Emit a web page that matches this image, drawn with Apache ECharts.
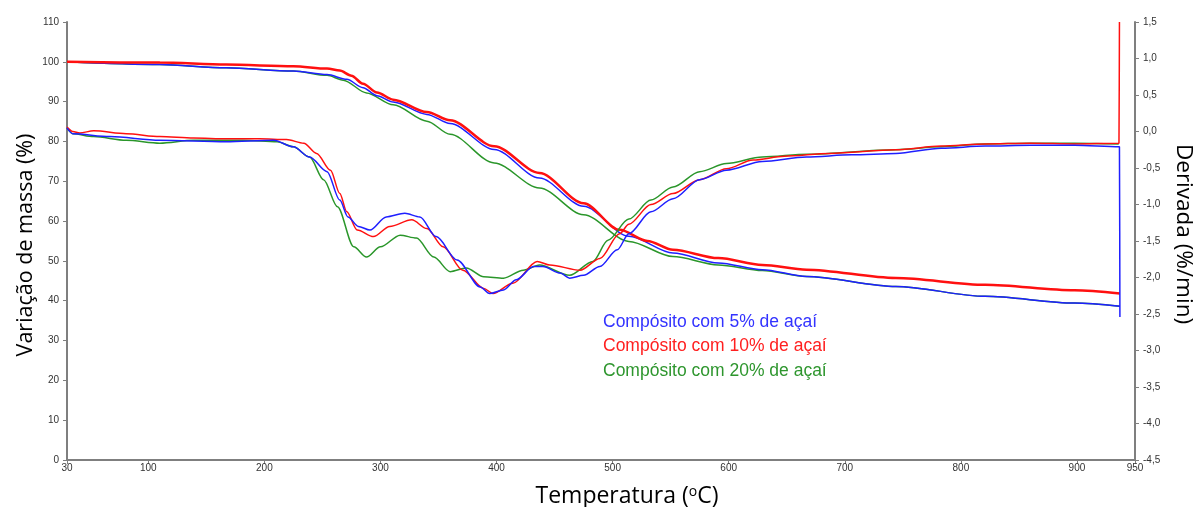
<!DOCTYPE html>
<html>
<head>
<meta charset="utf-8">
<script src="https://cdn.jsdelivr.net/npm/echarts@6/dist/echarts.min.js"></script>
<style>
html,body{margin:0;padding:0;background:#fff;}
#chart{width:1194px;height:507px;}
</style>
</head>
<body>
<div id="chart"></div>
<script>
// ---------- data (temperature °C, value) ----------
var seriesNames = ['Compósito com 5% de açaí', 'Compósito com 10% de açaí', 'Compósito com 20% de açaí'];
var xTickValues = [30, 100, 200, 300, 400, 500, 600, 700, 800, 900, 950];

// mass variation (%) - left axis
var tg5 = [[30,100],[110,99.3],[167,98.5],[225,97.7],[254,96.8],[271,95.6],[285,93.5],[297,91.5],[311,89.9],[340,86.8],[360,84.5],[398,78.0],[437,70.8],[475,63.7],[514,56.2],[552,52.0],[591,49.5],[629,47.8],[667,46.1],[744,43.6],[821,41.1],[898,39.4],[937,38.6]];
var tg10 = [[30,100],[110,99.8],[167,99.3],[225,98.9],[254,98.3],[265,97.8],[275,96.5],[285,94.5],[297,92.3],[311,90.5],[340,87.4],[360,85.3],[398,78.8],[437,72.1],[475,64.5],[506,57.8],[530,55.0],[552,52.8],[591,50.7],[629,49.0],[667,47.8],[744,45.7],[821,44.0],[898,42.6],[937,41.8]];
var tg20 = [[30,100],[110,99.3],[167,98.5],[225,97.7],[254,96.6],[268,95.4],[288,92.2],[311,89.2],[340,85.1],[360,81.8],[398,74.6],[437,68.3],[475,61.6],[514,54.9],[552,51.1],[591,49.0],[629,47.6],[667,46.1],[744,43.6],[821,41.1],[898,39.4],[937,38.6]];

// derivative (%/min) - right axis
var dtg5 = [[30,0.05],[35,-0.03],[67,-0.07],[110,-0.12],[167,-0.14],[208,-0.12],[225,-0.21],[239,-0.35],[254,-0.55],[265,-0.94],[272,-1.17],[281,-1.30],[291,-1.35],[305,-1.17],[321,-1.12],[334,-1.17],[348,-1.44],[366,-1.76],[386,-2.13],[394,-2.22],[406,-2.17],[417,-2.03],[432,-1.85],[440,-1.85],[455,-1.94],[463,-2.01],[475,-1.97],[489,-1.85],[504,-1.62],[514,-1.40],[533,-1.10],[552,-0.92],[575,-0.66],[598,-0.53],[629,-0.41],[667,-0.35],[706,-0.32],[744,-0.30],[783,-0.23],[821,-0.20],[860,-0.19],[898,-0.19],[936.6,-0.21],[937,-2.54]];
var dtg10 = [[30,0.06],[35,0.0],[41,-0.02],[53,0.01],[81,-0.03],[110,-0.07],[139,-0.09],[168,-0.10],[196,-0.10],[219,-0.11],[234,-0.16],[245,-0.30],[257,-0.53],[265,-0.85],[271,-1.10],[280,-1.35],[294,-1.44],[308,-1.30],[327,-1.21],[340,-1.33],[354,-1.58],[371,-1.90],[389,-2.15],[397,-2.22],[414,-2.08],[435,-1.78],[446,-1.83],[472,-1.90],[489,-1.74],[506,-1.40],[514,-1.27],[533,-1.00],[552,-0.85],[575,-0.66],[598,-0.51],[621,-0.39],[648,-0.34],[687,-0.30],[744,-0.25],[783,-0.20],[821,-0.17],[860,-0.16],[898,-0.17],[936.2,-0.16],[936.6,1.5]];
var dtg20 = [[30,0.05],[35,-0.03],[53,-0.07],[81,-0.12],[110,-0.16],[139,-0.12],[182,-0.12],[211,-0.14],[225,-0.21],[239,-0.35],[251,-0.66],[263,-1.03],[277,-1.58],[288,-1.72],[300,-1.58],[317,-1.42],[331,-1.46],[346,-1.72],[360,-1.92],[374,-1.87],[389,-1.99],[406,-2.01],[423,-1.90],[437,-1.83],[463,-1.97],[483,-1.78],[496,-1.49],[514,-1.20],[533,-0.94],[552,-0.76],[575,-0.55],[598,-0.44],[629,-0.35],[668,-0.31],[744,-0.25],[783,-0.21],[821,-0.17],[860,-0.16],[898,-0.16],[936,-0.17]];

var colors = {blue: '#1f1fff', red: '#ff1010', green: '#2a962a'};

var chart = echarts.init(document.getElementById('chart'));
var tickFont = {fontFamily: 'Liberation Sans', fontSize: 10, color: '#333'};
var axisLineStyle = {show: true, lineStyle: {color: '#7f7f7f', width: 2}};
var nameFont = 'Open Sans';

function line(name, data, color, width, yIdx) {
  return {
    name: name, type: 'line', data: data, yAxisIndex: yIdx,
    showSymbol: false, symbol: 'none', smooth: 0.3, smoothMonotone: 'x',
    lineStyle: {color: color, width: width}, itemStyle: {color: color},
    silent: true, animation: false
  };
}

chart.setOption({
  animation: false,
  grid: {left: 67, right: 59, top: 22, bottom: 47, containLabel: false, outerBoundsMode: 'none'},
  legend: {
    orient: 'vertical', left: 592, top: 308, itemWidth: 0, itemHeight: 0, itemGap: 6.5,
    selectedMode: false,
    textStyle: {fontFamily: 'Liberation Sans', fontSize: 17.5},
    data: [
      {name: seriesNames[0], textStyle: {color: '#3333ff'}},
      {name: seriesNames[1], textStyle: {color: '#ff2020'}},
      {name: seriesNames[2], textStyle: {color: '#2e962e'}}
    ]
  },
  xAxis: {
    type: 'value', min: 30, max: 950,
    name: '{a|Temperatura (}{s|o}{a|C)}', nameLocation: 'middle', nameGap: 25,
    nameTextStyle: {padding: [0, 0, 0, 52], rich: {
      a: {fontFamily: nameFont, fontSize: 23, color: '#000'},
      s: {fontFamily: nameFont, fontSize: 14, color: '#000', verticalAlign: 'top', padding: [0, 0, 9, 0]}
    }},
    axisLine: axisLineStyle,
    axisTick: {show: true, customValues: xTickValues, length: 4, lineStyle: {color: '#7f7f7f'}},
    axisLabel: Object.assign({customValues: xTickValues, margin: 3}, tickFont),
    splitLine: {show: false}
  },
  yAxis: [{
    type: 'value', min: 0, max: 110, interval: 10, position: 'left',
    name: 'Variação de massa (%)', nameLocation: 'middle', nameGap: 30, nameMoveOverlap: false,
    nameTextStyle: {fontFamily: nameFont, fontSize: 21.5, color: '#000', padding: [0, 8, 0, 0]},
    axisLine: axisLineStyle,
    axisTick: {show: true, length: 4, lineStyle: {color: '#7f7f7f'}},
    axisLabel: Object.assign({margin: 8}, tickFont),
    splitLine: {show: false}
  }, {
    type: 'value', min: -4.5, max: 1.5, interval: 0.5, position: 'right',
    name: 'Derivada (%/min)', nameLocation: 'middle', nameGap: 37, nameRotate: -90, nameMoveOverlap: false,
    nameTextStyle: {fontFamily: nameFont, fontSize: 22.5, color: '#000', padding: [0, 14, 0, 0]},
    axisLine: axisLineStyle,
    axisTick: {show: true, length: 4, lineStyle: {color: '#7f7f7f'}},
    axisLabel: Object.assign({margin: 8, formatter: function (v) { return v.toFixed(1).replace('.', ','); }}, tickFont),
    splitLine: {show: false}
  }],
  series: [
    line(seriesNames[2], tg20, colors.green, 1.5, 0),
    line(seriesNames[0], tg5, colors.blue, 1.5, 0),
    line(seriesNames[1], tg10, colors.red, 2.5, 0),
    line('DTG 20%', dtg20, colors.green, 1.5, 1),
    line('DTG 10%', dtg10, colors.red, 1.5, 1),
    line('DTG 5%', dtg5, colors.blue, 1.5, 1)
  ]
});
</script>
</body>
</html>
